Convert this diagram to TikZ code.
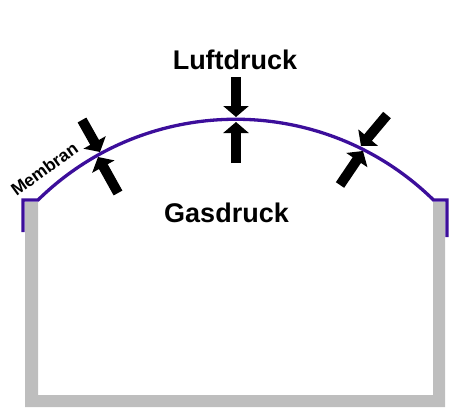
\documentclass[tikz,border=0pt]{standalone}
\usepackage{fontspec}
\setmainfont{Liberation Sans}
\usetikzlibrary{arrows.meta}
\definecolor{membrancol}{RGB}{60,14,155}
\definecolor{wallgray}{RGB}{190,190,190}
\tikzset{
  pressarrow/.style={line width=10pt, -{Triangle[width=25pt,length=11pt]}},
  membranline/.style={draw=membrancol, line width=3.3pt, line join=miter},
  bigtext/.style={font=\fontsize{27}{30}\selectfont\bfseries, inner sep=0pt},
  smalltext/.style={font=\fontsize{17.5}{20}\selectfont\bfseries, inner sep=0pt}
}
\begin{document}
\begin{tikzpicture}[x=1pt,y=1pt]
\useasboundingbox (0,0) rectangle (452,408);
% container
\fill[wallgray] (25,206) -- (25,1) -- (445,1) -- (445,206) -- (433,206) -- (433,13) -- (38,13) -- (38,206) -- cycle;
% membrane
\draw[membranline] (23,176) -- (23,208) -- (38,208) arc[start angle=134.43, end angle=45.57, radius=282.5] -- (447,208) -- (447,171);
% labels
\node[bigtext, anchor=base] (luft) at (235,338) {Luftdruck};
\node[bigtext, anchor=base] (gas) at (226.5,186) {Gasdruck};
\node[smalltext, anchor=base, rotate=36] (membran) at (48,234) {Membran};
% arrow coordinates
\coordinate (t1s) at (236,331); \coordinate (t1e) at (236,291);
\coordinate (t2s) at (236,245); \coordinate (t2e) at (236,286);
\coordinate (l1s) at (82,288);  \coordinate (l1e) at (100,256);
\coordinate (l2s) at (118,215); \coordinate (l2e) at (98,251);
\coordinate (r1s) at (387,293); \coordinate (r1e) at (361,262);
\coordinate (r2s) at (340,223); \coordinate (r2e) at (363,257);
\draw[pressarrow] (t1s) -- (t1e);
\draw[pressarrow] (t2s) -- (t2e);
\draw[pressarrow] (l1s) -- (l1e);
\draw[pressarrow] (l2s) -- (l2e);
\draw[pressarrow] (r1s) -- (r1e);
\draw[pressarrow] (r2s) -- (r2e);
\end{tikzpicture}
\end{document}
